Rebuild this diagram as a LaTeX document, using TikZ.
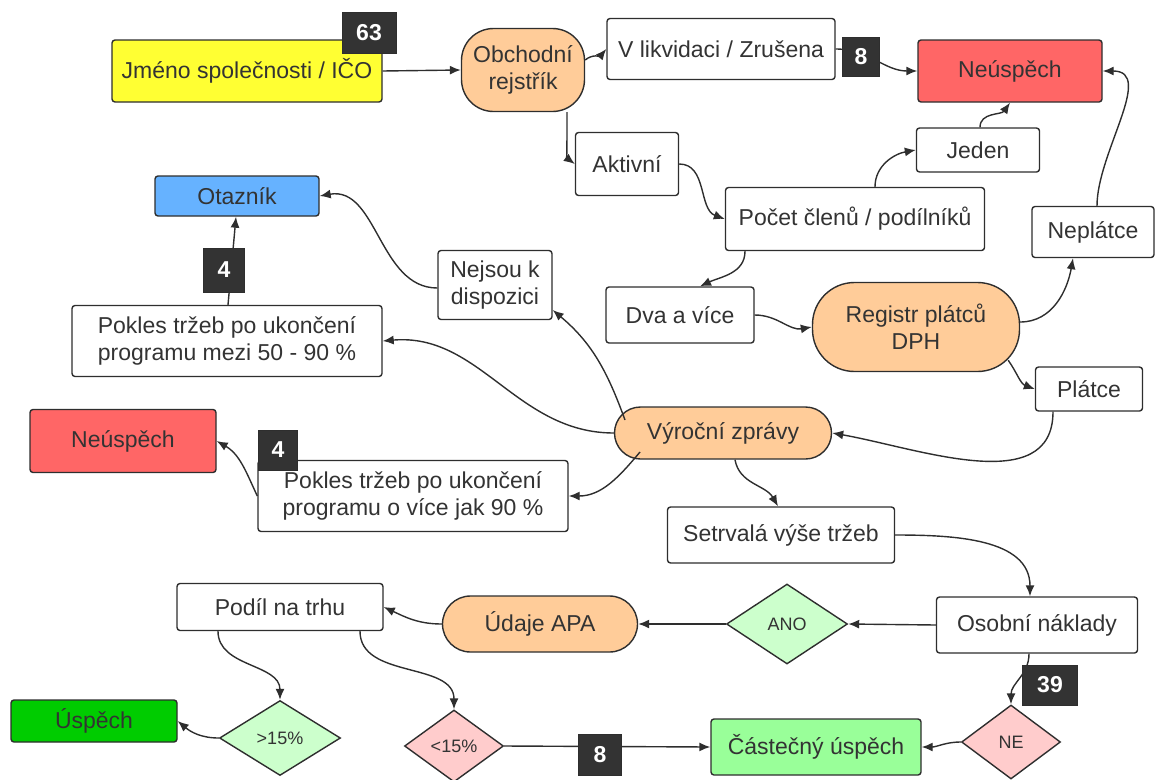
\documentclass[tikz,border=0pt]{standalone}
\usepackage{fontspec}
\setmainfont{Liberation Sans}
\usetikzlibrary{shapes.geometric,arrows.meta}
\definecolor{ln}{HTML}{2E2E2E}
\definecolor{txt}{HTML}{333333}
\definecolor{yel}{HTML}{FFFF33}
\definecolor{orng}{HTML}{FFCC99}
\definecolor{rd}{HTML}{FF6666}
\definecolor{blu}{HTML}{66B2FF}
\definecolor{dgrn}{HTML}{00CC00}
\definecolor{lgrn}{HTML}{99FF99}
\definecolor{pgrn}{HTML}{CCFFCC}
\definecolor{pnk}{HTML}{FFCCCC}
\definecolor{bdg}{HTML}{333333}
\begin{document}
\begin{tikzpicture}[x=1pt,y=-1pt,
  base/.style={draw=ln, line width=1.4pt, text=txt, inner sep=0pt, align=center,
    font=\fontsize{23}{27}\selectfont},
  box/.style={base, fill=white, rounded corners=3pt},
  term/.style={base, fill=orng},
  dia/.style={base, diamond, font=\fontsize{18}{21}\selectfont},
  badge/.style={draw=ln, fill=bdg, text=white, line width=1pt, inner sep=0pt,
    font=\bfseries\fontsize{23}{27}\selectfont},
  arr/.style={draw=ln, line width=1.4pt, -{Latex[length=11pt,width=9pt]}},
  sz/.style 2 args={minimum width=#1pt, minimum height=#2pt},
]
\useasboundingbox (0,0) rectangle (1155,779);

% nodes
\node[box, fill=yel, sz={270}{62}] (jm) at (247,71) {Jméno společnosti / IČO};
\node[term, rounded corners=32pt, sz={123}{83}] (ob) at (523,70) {Obchodní\\rejstřík};
\node[box, sz={228}{61}] (vl) at (721,49) {V likvidaci / Zrušena};
\node[box, fill=rd, sz={184}{62}] (neu1) at (1010,71) {Neúspěch};
\node[box, sz={103}{63}] (ak) at (627,164) {Aktivní};
\node[box, sz={123}{44}] (je) at (978,150) {Jeden};
\node[box, sz={259}{63}] (po) at (855,219) {Počet členů / podílníků};
\node[box, sz={122}{51}] (np) at (1093,232) {Neplátce};
\node[box, fill=blu, sz={164}{40}] (ot) at (237,196) {Otazník};
\node[box, sz={114}{69}] (nj) at (495,285) {Nejsou k\\dispozici};
\node[box, sz={148}{56}] (dv) at (680,315) {Dva a více};
\node[term, rounded corners=42pt, sz={207}{89}] (re) at (916,327) {Registr plátců\\DPH};
\node[box, sz={310}{71}] (pk1) at (227,341) {Pokles tržeb po ukončení\\programu mezi 50 - 90 \%};
\node[box, sz={107}{44}] (pl) at (1089,389) {Plátce};
\node[box, fill=rd, sz={186}{63}] (neu2) at (123,441) {Neúspěch};
\node[term, rounded corners=26pt, sz={217}{52}] (vy) at (723,433) {Výroční zprávy};
\node[box, sz={310}{71}] (pk2) at (413,496) {Pokles tržeb po ukončení\\programu o více jak 90 \%};
\node[box, sz={227}{56}] (se) at (781,535) {Setrvalá výše tržeb};
\node[box, sz={206}{47}] (pd) at (280,607) {Podíl na trhu};
\node[term, rounded corners=28pt, sz={195}{56}] (ud) at (540,624) {Údaje APA};
\node[dia, fill=pgrn, sz={121}{80}] (an) at (787,624) {ANO};
\node[box, sz={201}{56}] (os) at (1037,625) {Osobní náklady};
\node[box, fill=dgrn, sz={166}{42}] (us) at (94,721) {Úspěch};
\node[dia, fill=pgrn, sz={121}{75}] (g15) at (280,738) {>15\%};
\node[dia, fill=pnk, sz={99}{72}] (l15) at (454,746) {<15\%};
\node[box, fill=lgrn, sz={210}{56}] (cu) at (816,747) {Částečný úspěch};
\node[dia, fill=pnk, sz={99}{74}] (ne) at (1011,742) {NE};

% connectors
\draw[arr] (jm.east) -- (ob.west);
\draw[arr] ([yshift=10pt]ob.east) to[out=40,in=230] (vl.west);
\draw[arr] (vl.east) to[out=0,in=180] (neu1.west);
\draw[arr] ([xshift=44pt]ob.south) .. controls +(0pt,-38pt) and +(-8pt,6pt) .. (ak.west);
\draw[arr] (ak.east) to[out=0,in=160] (po.west);
\draw[arr] ([xshift=20pt]po.north) to[out=90,in=190] (je.west);
\draw[arr] ([xshift=2pt]je.north) to[out=90,in=235] (neu1.south);
\draw[arr] ([xshift=-110pt]po.south) to[out=-90,in=25] ([xshift=20pt]dv.north);
\draw[arr] (dv.east) to[out=0,in=190] (re.west);
\draw[arr] ([yshift=5pt]re.east) to[out=0,in=-100] ([xshift=-20pt]np.south);
\draw[arr] ([xshift=4pt]np.north) to[out=90,in=0] (neu1.east);
\draw[arr] ([xshift=-12pt,yshift=12pt]re.south east) to[out=-55,in=160] (pl.west);
\draw[arr] ([xshift=-36pt]pl.south) to[out=-90,in=-10] (vy.east);
\draw[arr] ([xshift=-98pt,yshift=13pt]vy.center) to[out=110,in=-40] ([yshift=-25pt]nj.east);
\draw[arr] ([yshift=-3pt]nj.west) to[out=180,in=10] (ot.east);
\draw[arr] (vy.west) to[out=180,in=5] (pk1.east);
\draw[arr] ([xshift=1pt]pk1.north) -- ([xshift=-1pt]ot.south);
\draw[arr] ([xshift=-83pt,yshift=-19pt]vy.center) to[out=-130,in=0] (pk2.east);
\draw[arr] (pk2.west) to[out=115,in=-30] (neu2.east);
\draw[arr] ([xshift=12pt]vy.south) to[out=-80,in=120] ([xshift=-3pt]se.north);
\draw[arr] (se.east) to[out=0,in=90] ([xshift=-7pt]os.north);
\draw[arr] (os.west) -- (an.east);
\draw[arr] (an.west) -- (ud.east);
\draw[arr] (ud.west) to[out=180,in=-25] (pd.east);
\draw[arr] ([xshift=-62pt]pd.south) to[out=-90,in=90] (g15.north);
\draw[arr] ([xshift=80pt]pd.south) to[out=-90,in=90] (l15.north);
\draw[arr] (g15.west) to[out=180,in=-40] (us.east);
\draw[arr] (l15.east) -- (cu.west);
\draw[arr] ([xshift=-8pt]os.south) to[out=-90,in=90] (ne.north);
\draw[arr] (ne.west) to[out=180,in=0] (cu.east);

% badges
\node[badge, sz={54}{41}] (b63) at (369,33) {63};
\node[badge, sz={37}{39}] (b8a) at (861,57) {8};
\node[badge, sz={41}{44}] (b4a) at (224,270) {4};
\node[badge, sz={39}{40}] (b4b) at (278,450) {4};
\node[badge, sz={55}{40}] (b39) at (1050,685) {39};
\node[badge, sz={43}{41}] (b8b) at (600,755) {8};
\end{tikzpicture}
\end{document}
